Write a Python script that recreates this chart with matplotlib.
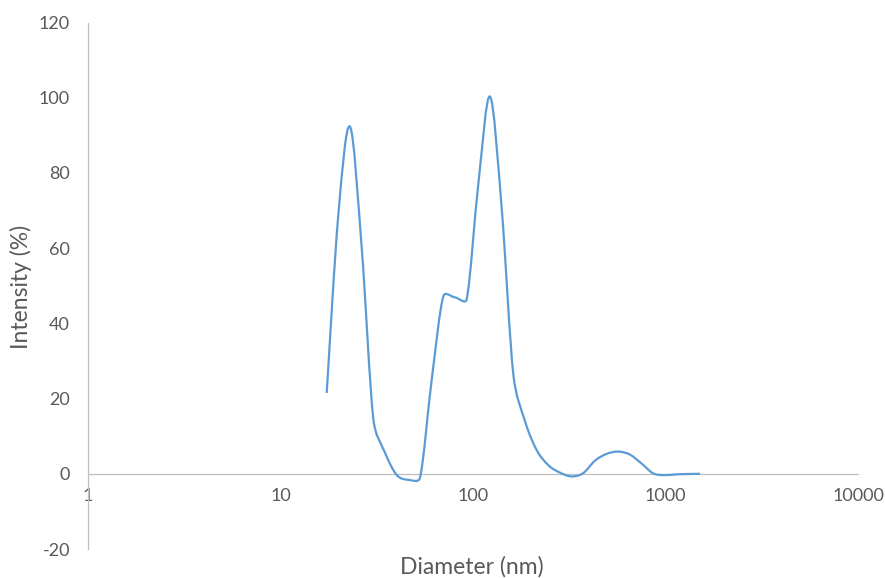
import numpy as np
import matplotlib
matplotlib.use("Agg")
import matplotlib.pyplot as plt
from matplotlib.path import Path
from matplotlib.patches import PathPatch

# ---- data ----
diameter_nm = [17.38, 19.98, 22.97, 26.41, 30.37, 34.92, 40.14, 46.15, 53.06, 61.01,
               70.14, 80.64, 92.71, 106.6, 122.6, 140.9, 162.0, 186.3, 214.2, 246.2,
               283.1, 325.5, 374.2, 430.3, 494.7, 568.8, 653.9, 751.8, 864.4, 993.8,
               1142.6, 1313.7, 1510.4]
intensity_pct = [21.5, 69.0, 92.3, 60.2, 14.5, 5.6, -0.3, -1.6, -1.0, 25.0,
                 47.2, 46.9, 46.4, 77.1, 100.3, 70.7, 26.4, 14.0, 6.3, 2.3,
                 0.3, -0.7, 0.2, 3.5, 5.3, 5.9, 5.1, 2.7, 0.1, -0.35,
                 -0.15, -0.05, 0.0]
x_ticks = [1, 10, 100, 1000, 10000]
x_tick_labels = ["1", "10", "100", "1000", "10000"]
y_ticks = [-20, 0, 20, 40, 60, 80, 100, 120]

LINE = "#5B9BD5"
AXC = "#BFBFBF"
TXT = "#595959"
plt.rcParams["font.family"] = ["Lato", "DejaVu Sans"]
plt.rcParams["axes.unicode_minus"] = False

fig = plt.figure(figsize=(8.85, 5.78), dpi=100)
ax = fig.add_axes([88 / 885, 1 - 549 / 578, (858 - 88) / 885, (549 - 22.5) / 578])
ax.set_xscale("log")
ax.set_xlim(1, 10000)
ax.set_ylim(-20, 120)

# Excel-like smoothed line: Bezier segments, tangents capped by chord length
# (computed in screen-proportional units, then mapped back to data)
SX, SY = 192.5, 3.76  # pixels per decade / per percent
P = np.column_stack([np.log10(np.asarray(diameter_nm, float)) * SX,
                     np.asarray(intensity_pct, float) * SY])
n = len(P)
T = np.zeros_like(P)
for i in range(n):
    a = P[i - 1] if i > 0 else P[i]
    b = P[i + 1] if i < n - 1 else P[i]
    T[i] = b - a
TL = np.linalg.norm(T, axis=1)
U = T / np.where(TL > 0, TL, 1)[:, None]
verts = [P[0]]
codes = [Path.MOVETO]
for i in range(n - 1):
    d = np.linalg.norm(P[i + 1] - P[i])
    l1 = min(TL[i] / 6.0, d / 2.0)
    l2 = min(TL[i + 1] / 6.0, d / 2.0)
    verts += [P[i] + l1 * U[i], P[i + 1] - l2 * U[i + 1], P[i + 1]]
    codes += [Path.CURVE4] * 3
verts = np.array(verts)
verts = np.column_stack([10 ** (verts[:, 0] / SX), verts[:, 1] / SY])
path = Path(verts, codes)
ax.add_patch(PathPatch(path, fill=False, edgecolor=LINE, lw=1.6,
                       capstyle="butt", joinstyle="round", zorder=3))

for s in ["top", "right"]:
    ax.spines[s].set_visible(False)
ax.spines["left"].set_color(AXC)
ax.spines["left"].set_linewidth(0.9)
ax.spines["bottom"].set_position(("data", 0))
ax.spines["bottom"].set_color(AXC)
ax.spines["bottom"].set_linewidth(0.9)

ax.set_xticks(x_ticks)
ax.set_xticklabels(x_tick_labels)
ax.xaxis.set_minor_locator(matplotlib.ticker.NullLocator())
ax.set_yticks(y_ticks)
ax.tick_params(axis="both", length=0, labelsize=13, labelcolor=TXT)
ax.tick_params(axis="y", pad=13)
ax.tick_params(axis="x", pad=10)

fig.text(472 / 885, 1 - 567 / 578, "Diameter (nm)", ha="center", va="center",
         fontsize=16.5, color=TXT)
fig.text(21 / 885, 1 - 287 / 578, "Intensity (%)", ha="center", va="center",
         rotation=90, fontsize=16.5, color=TXT)

fig.savefig("out.png", dpi=100)
